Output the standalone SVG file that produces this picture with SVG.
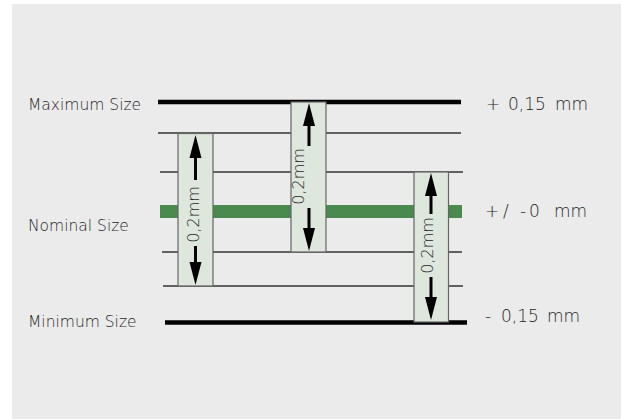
<svg xmlns="http://www.w3.org/2000/svg" width="621" height="419" viewBox="0 0 621 419">
  <style>
    .lbl { font-family: "DejaVu Sans", "Liberation Sans", sans-serif; font-weight: 200; font-size: 15.5px; fill: #262626; }
    .val { font-family: "DejaVu Sans", "Liberation Sans", sans-serif; font-weight: 200; font-size: 17px; fill: #262626; }
    .dim { font-family: "DejaVu Sans", "Liberation Sans", sans-serif; font-weight: 200; font-size: 16px; fill: #262626; }
    .thick { stroke: #000; stroke-width: 4.5; }
    .thin { stroke: #333; stroke-width: 1.5; }
    .nom { stroke: #4a8a4f; stroke-width: 13; }
    .bar { fill: #dde7db; stroke: #666; stroke-width: 1.2; }
    .shaft { stroke: #000; stroke-width: 3; }
    .head { fill: #000; }
  </style>
  <rect x="0" y="0" width="621" height="419" fill="#ffffff"/>
  <rect x="12" y="4" width="609" height="415" fill="#ebebeb"/>

  <g id="levels">
    <line class="thick" x1="158" y1="102" x2="461" y2="102"/>
    <line class="thin" x1="158" y1="133" x2="461" y2="133"/>
    <line class="thin" x1="160" y1="172" x2="463" y2="172"/>
    <line class="nom" x1="160" y1="211.5" x2="462" y2="211.5"/>
    <line class="thin" x1="162" y1="252" x2="462" y2="252"/>
    <line class="thin" x1="163" y1="286" x2="463" y2="286"/>
    <line class="thick" x1="165" y1="322.5" x2="467" y2="322.5"/>
  </g>

  <g id="label-max"><text class="lbl" x="28" y="110">Maximum Size</text></g>
  <g id="label-nom"><text class="lbl" x="28" y="231">Nominal Size</text></g>
  <g id="label-min"><text class="lbl" x="28" y="327">Minimum Size</text></g>

  <g id="value-max"><text class="val" y="110"><tspan x="486">+</tspan><tspan x="508">0,15</tspan><tspan x="555">mm</tspan></text></g>
  <g id="value-nom"><text class="val" y="217"><tspan x="485">+</tspan><tspan x="503">/</tspan><tspan x="520">-</tspan><tspan x="529">0</tspan><tspan x="554">mm</tspan></text></g>
  <g id="value-min"><text class="val" y="322"><tspan x="485">-</tspan><tspan x="501">0,15</tspan><tspan x="547">mm</tspan></text></g>

  <g id="bar-1">
    <rect class="bar" x="178" y="133.5" width="35" height="152.5"/>
    <line class="shaft" x1="195.5" y1="155" x2="195.5" y2="180"/>
    <polygon class="head" points="195.5,135 189.5,158 201.5,158"/>
    <line class="shaft" x1="195.5" y1="246" x2="195.5" y2="265"/>
    <polygon class="head" points="195.5,285 189.5,262 201.5,262"/>
    <text class="dim" text-anchor="middle" transform="translate(199,214.5) rotate(-90)">0,2mm</text>
  </g>

  <g id="bar-2">
    <rect class="bar" x="291" y="102" width="35" height="150"/>
    <line class="shaft" x1="309" y1="122" x2="309" y2="146"/>
    <polygon class="head" points="309,103 303,126 315,126"/>
    <line class="shaft" x1="309" y1="208" x2="309" y2="232"/>
    <polygon class="head" points="309,251 303,228 315,228"/>
    <text class="dim" text-anchor="middle" transform="translate(304,176.5) rotate(-90)">0,2mm</text>
  </g>

  <g id="bar-3">
    <rect class="bar" x="414" y="172" width="34.5" height="150"/>
    <line class="shaft" x1="431" y1="192" x2="431" y2="214"/>
    <polygon class="head" points="431,173 425,196 437,196"/>
    <line class="shaft" x1="431" y1="277" x2="431" y2="300"/>
    <polygon class="head" points="431,320 425,297 437,297"/>
    <text class="dim" text-anchor="middle" transform="translate(433,245.5) rotate(-90)">0,2mm</text>
  </g>
</svg>
